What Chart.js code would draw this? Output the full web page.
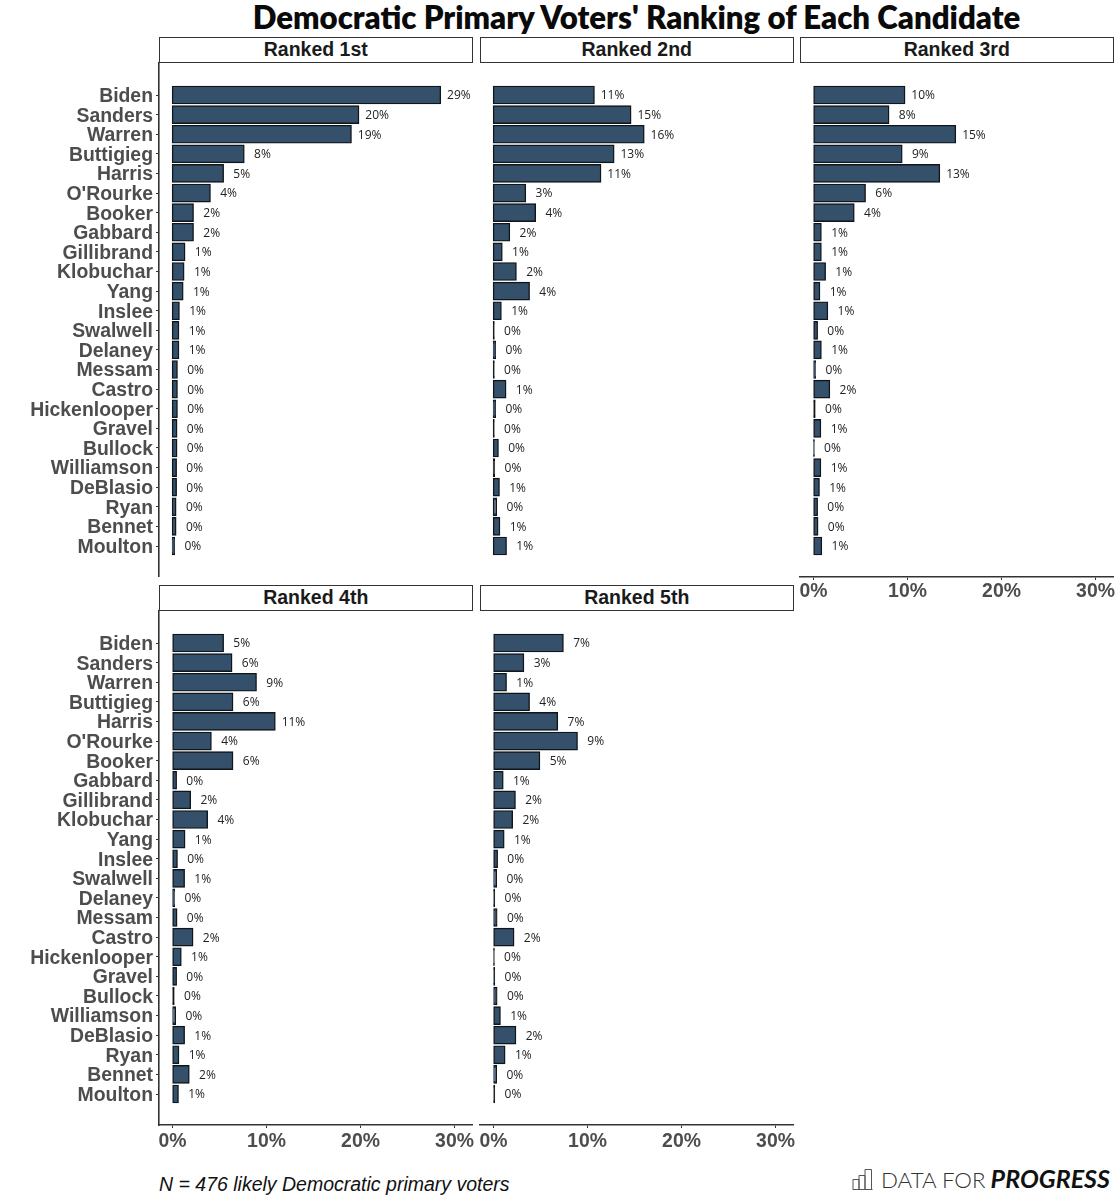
<!DOCTYPE html>
<html>
<head>
<meta charset="utf-8">
<script src="https://cdn.jsdelivr.net/npm/chart.js@4/dist/chart.umd.min.js"></script>
<style>
html,body{margin:0;padding:0;background:#fff;}
#page{position:relative;width:1120px;height:1200px;overflow:hidden;}
canvas{position:absolute;display:block;}
.strip{position:absolute;box-sizing:border-box;width:313.5px;height:26px;border:1.5px solid #333;background:#fff;
 font:bold 19.5px "Liberation Sans",sans-serif;color:#1a1a1a;text-align:center;line-height:23px;}
#title{position:absolute;left:0;width:1273px;top:-2px;text-align:center;font:800 31.2px Lato,sans-serif;color:#0a0a0a;white-space:nowrap;}
#note{position:absolute;left:159px;top:1173px;font:italic 19.5px "Liberation Sans",sans-serif;color:#111;white-space:nowrap;}
#logo{position:absolute;left:881px;top:1163px;font:300 22.3px Lato,sans-serif;color:#333;white-space:nowrap;}
#logo b{font-weight:700;font-style:italic;color:#111;font-size:25px;margin-left:-1px;}
#icon{position:absolute;left:852px;top:1168px;}
</style>
</head>
<body>
<div id="page">
<div id="title">Democratic Primary Voters' Ranking of Each Candidate</div>
<div id="note">N = 476 likely Democratic primary voters</div>
<svg id="icon" width="21" height="22" viewBox="0 0 21 22" fill="none" stroke="#555" stroke-width="1"><path d="M0.5 21.5H20.5M1 21V11.5H7V21M7 21V7.5H13V21M13 21V1.5H19.5V21"/></svg>
<div id="logo">DATA FOR <b>PROGRESS</b></div>
</div>
<script>
const candidates = ["Biden","Sanders","Warren","Buttigieg","Harris","O'Rourke","Booker","Gabbard","Gillibrand","Klobuchar","Yang","Inslee","Swalwell","Delaney","Messam","Castro","Hickenlooper","Gravel","Bullock","Williamson","DeBlasio","Ryan","Bennet","Moulton"];
const panelTitles = ["Ranked 1st","Ranked 2nd","Ranked 3rd","Ranked 4th","Ranked 5th"];
const xTicks = [0,10,20,30];
const ranked1 = [28.5,19.8,19.0,7.6,5.4,4.0,2.2,2.2,1.3,1.2,1.1,0.7,0.65,0.65,0.49,0.49,0.49,0.45,0.45,0.4,0.4,0.35,0.35,0.2];
const ranked2 = [10.7,14.6,16.0,12.8,11.4,3.4,4.45,1.7,0.9,2.4,3.8,0.8,0.05,0.2,0.05,1.3,0.2,0.05,0.49,0.1,0.6,0.3,0.65,1.35];
const ranked3 = [9.7,8.0,15.1,9.4,13.4,5.5,4.3,0.8,0.8,1.25,0.65,1.49,0.4,0.8,0.2,1.7,0.15,0.75,0.05,0.75,0.6,0.4,0.45,0.85];
const ranked4 = [5.4,6.3,8.9,6.4,10.9,4.1,6.4,0.4,1.9,3.7,1.3,0.49,1.25,0.2,0.45,2.15,0.9,0.4,0.15,0.3,1.25,0.65,1.75,0.6];
const ranked5 = [7.4,3.2,1.35,3.8,6.8,8.9,4.9,1.0,2.3,2.0,1.1,0.4,0.3,0.1,0.35,2.15,0.05,0.1,0.35,0.7,2.35,1.2,0.3,0.1];

const FILL = '#34506b', EDGE = '#10151a', AXIS = '#333333', TICK = '#4d4d4d';
const PW = 313, PH = 515, EXTRA = 8, LEFT_AXIS = 159, X_AXIS_H = 42;
const tickFont = {family:'"Liberation Sans"', size:19.4, weight:'bold'};
const yTickFont = {family:'"Liberation Sans"', size:19.4, weight:'bold', lineHeight:0.16};

const barLabels = {
  id:'barLabels',
  afterDatasetsDraw(chart){
    const {ctx, scales:{x,y}} = chart;
    const ds = chart.data.datasets[0].data;
    ctx.save();
    ctx.font = '12px "Open Sans"';
    ctx.fillStyle = '#222';
    ctx.textAlign = 'center';
    ctx.textBaseline = 'middle';
    ds.forEach(p => ctx.fillText(Math.round(p.x)+'%', x.getPixelForValue(p.x) + 18.5, y.getPixelForValue(p.y) + 1));
    ctx.restore();
  }
};

function panel(values, title, left, top, showY, showX){
  const page = document.getElementById('page');
  const s = document.createElement('div');
  s.className = 'strip';
  s.style.left = left+'px';
  s.style.top = (top-25.5)+'px';
  s.textContent = title;
  page.appendChild(s);

  const c = document.createElement('canvas');
  const cl = showY ? 0 : left-EXTRA;
  const padL = showY ? 0 : EXTRA;
  const w = showY ? left+PW+EXTRA : PW+2*EXTRA;
  const h = PH + (showX ? X_AXIS_H : 0);
  c.width = w; c.height = h;
  c.style.width = w+'px'; c.style.height = h+'px';
  c.style.left = cl+'px'; c.style.top = top+'px';
  page.appendChild(c);

  new Chart(c, {
    type:'bar',
    data:{datasets:[{
      data: values.map((v,i)=>({x:v,y:i})),
      backgroundColor: ctx => (ctx.raw && ctx.raw.x < 0.2) ? EDGE : FILL,
      borderColor: EDGE,
      borderWidth: 1.4,
      borderSkipped: false,
      inflateAmount: 0.7,
      barPercentage: 0.88,
      categoryPercentage: 1
    }]},
    options:{
      indexAxis:'y',
      responsive:false,
      animation:false,
      devicePixelRatio:1,
      layout:{padding:{left:padL,right:EXTRA,top:0,bottom:0}},
      plugins:{legend:{display:false},tooltip:{enabled:false},title:{display:false}},
      scales:{
        x:{
          type:'linear', min:-1.436, max:31.86, display:showX,
          afterBuildTicks:s=>{s.ticks = xTicks.map(v=>({value:v}));},
          afterFit:s=>{ s.height = showX ? X_AXIS_H : 0; s.paddingLeft = 0; s.paddingRight = 0; },
          grid:{drawOnChartArea:false,drawTicks:true,tickLength:3,color:AXIS,tickWidth:1},
          border:{display:true,color:AXIS,width:1.6},
          ticks:{callback:v=>v+'%',color:TICK,font:tickFont,padding:top===62?0:2,autoSkip:false,maxRotation:0}
        },
        y:{
          type:'linear', reverse:true, offset:false, min:-1.683, max:24.58, display:showY,
          afterBuildTicks:s=>{s.ticks = candidates.map((_,i)=>({value:i}));},
          afterFit:s=>{ s.width = showY ? LEFT_AXIS : 0; s.paddingTop = 0; s.paddingBottom = 0; },
          grid:{offset:false,drawOnChartArea:false,drawTicks:true,tickLength:3,color:AXIS,tickWidth:1},
          border:{display:true,color:AXIS,width:1.6},
          ticks:{callback:v=>['',candidates[v]],color:TICK,font:yTickFont,padding:3,autoSkip:false,maxRotation:0}
        }
      }
    },
    plugins:[barLabels]
  });
}
panel(ranked1, panelTitles[0], 159, 62, true, false);
panel(ranked2, panelTitles[1], 480, 62, false, false);
panel(ranked3, panelTitles[2], 800, 62, false, true);
panel(ranked4, panelTitles[3], 159, 610, true, true);
panel(ranked5, panelTitles[4], 480, 610, false, true);
</script>
</body>
</html>
